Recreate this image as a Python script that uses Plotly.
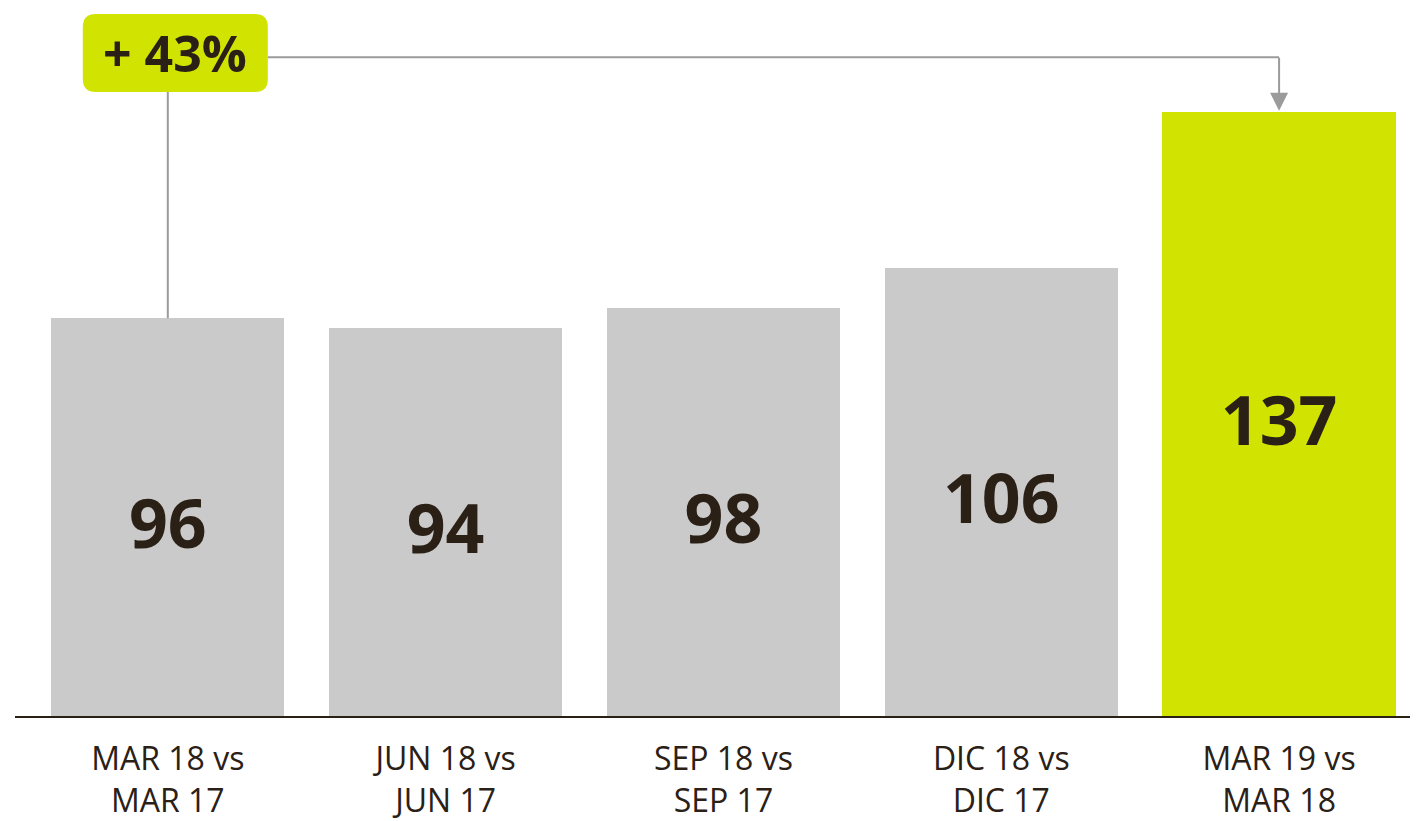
import plotly.graph_objects as go

CATEGORIES = ["MAR 18 vs<br>MAR 17", "JUN 18 vs<br>JUN 17", "SEP 18 vs<br>SEP 17",
              "DIC 18 vs<br>DIC 17", "MAR 19 vs<br>MAR 18"]
VALUES = [96, 94, 98, 106, 137]
HIGHLIGHT = 4
CHANGE_LABEL = "+ 43%"

GREY = '#cacaca'
GREEN = '#d1e300'
INK = '#2b2016'
LINE = '#9b9b9b'
FONT = 'Open Sans, Noto Sans, sans-serif'

# page has an 8px body margin, so the figure is a little smaller than the window
W, H = 1410, 813
ML, MR, MT, MB = 7, 0, 0, 93
PLOT_W, PLOT_H = W - ML - MR, H - MT - MB
XR = [-0.55, 4.5]
YR = [17, 157.6]
px_x = PLOT_W / (XR[1] - XR[0])
px_y = PLOT_H / (YR[1] - YR[0])

def ypaper(v):
    return (v - YR[0]) / (YR[1] - YR[0])

colors = [GREEN if i == HIGHLIGHT else GREY for i in range(len(VALUES))]
xs = list(range(len(VALUES)))

fig = go.Figure(go.Bar(
    x=xs, y=VALUES, width=0.84,
    marker=dict(color=colors, line=dict(width=0)), hoverinfo='skip'))

# value labels sit a little below the middle of the visible bar
fig.add_trace(go.Scatter(
    x=xs, y=[(v + YR[0]) / 2 - 14 / px_y for v in VALUES], mode='text',
    text=[str(v) for v in VALUES], textposition='middle center',
    textfont=dict(size=68, color=INK, family=FONT, weight=700), hoverinfo='skip'))

# callout box + connectors (pixel offsets from the top of the plot)
box_l, box_r, box_t, box_b, rad = -85, 100, -6, -84, 13
path = (f"M {box_l+rad},{box_t} L {box_r-rad},{box_t} Q {box_r},{box_t} {box_r},{box_t-rad} "
        f"L {box_r},{box_b+rad} Q {box_r},{box_b} {box_r-rad},{box_b} "
        f"L {box_l+rad},{box_b} Q {box_l},{box_b} {box_l},{box_b+rad} "
        f"L {box_l},{box_t-rad} Q {box_l},{box_t} {box_l+rad},{box_t} Z")
ARROW_PX = 50
arrow_y = 1 - ARROW_PX / PLOT_H
fig.add_shape(type='line', xref='x', yref='paper', x0=0, x1=0,
              y0=ypaper(VALUES[0]), y1=1 + box_b / PLOT_H, line=dict(color=LINE, width=2))
fig.add_shape(type='line', xref='x', yref='paper', x0=box_r / px_x, x1=HIGHLIGHT,
              y0=arrow_y, y1=arrow_y, line=dict(color=LINE, width=2))
fig.add_shape(type='path', path=path, xref='x', xsizemode='pixel', xanchor=0,
              yref='paper', ysizemode='pixel', yanchor=1,
              fillcolor=GREEN, line=dict(width=0))
top_px = PLOT_H - (VALUES[HIGHLIGHT] - YR[0]) * px_y
fig.add_annotation(x=HIGHLIGHT, y=VALUES[HIGHLIGHT], xref='x', yref='y', text='',
                   showarrow=True, axref='pixel', ayref='pixel', ax=0, ay=-(top_px - ARROW_PX),
                   arrowhead=2, arrowsize=1.8, arrowwidth=2, arrowcolor=LINE, standoff=1)
fig.add_annotation(x=0, xref='x', y=1, yref='paper', xshift=7, yshift=-45,
                   xanchor='center', yanchor='middle',
                   text=CHANGE_LABEL, showarrow=False,
                   font=dict(size=50, color=INK, family=FONT, weight=700))

fig.update_layout(
    width=W, height=H, margin=dict(l=ML, r=MR, t=MT, b=MB),
    paper_bgcolor='white', plot_bgcolor='white', showlegend=False,
    font=dict(family=FONT, color=INK), bargap=0)
fig.update_xaxes(range=XR, tickvals=xs, ticktext=CATEGORIES,
                 tickfont=dict(size=32, color=INK), ticks='', showgrid=False,
                 zeroline=False, showline=True, linecolor=INK, linewidth=2,
                 ticklabelstandoff=14)
fig.update_yaxes(range=YR, visible=False)

fig.write_html("out.html")
